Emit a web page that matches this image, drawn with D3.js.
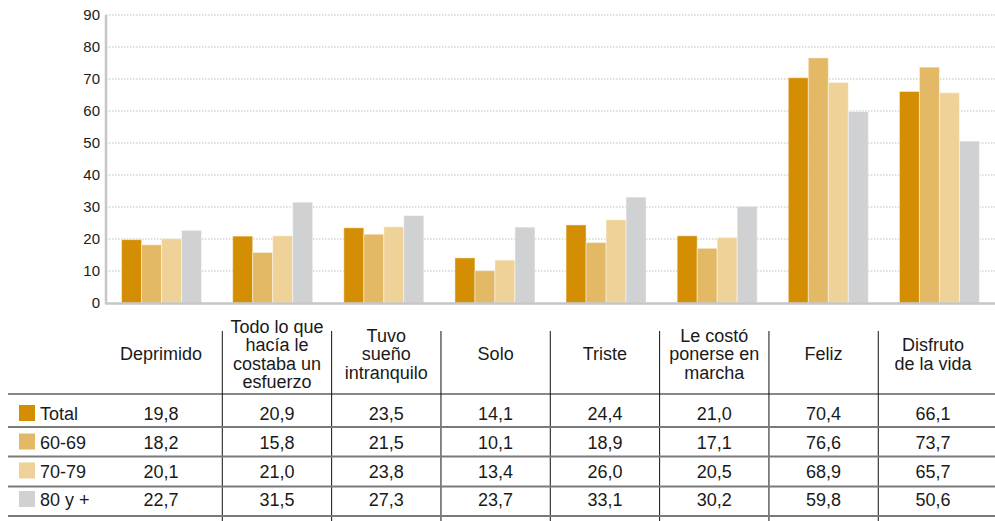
<!DOCTYPE html>
<html>
<head>
<meta charset="utf-8">
<script src="https://cdn.jsdelivr.net/npm/d3@7"></script>
<style>
  html, body { margin: 0; padding: 0; background: #fff; }
  svg { display: block; font-family: "Liberation Sans", Arial, Helvetica, sans-serif; }
</style>
</head>
<body>
<svg id="chart" width="995" height="521"></svg>
<script>
// ---- Data ----
const categories = [
  "Deprimido",
  "Todo lo que\nhacía le\ncostaba un\nesfuerzo",
  "Tuvo\nsueño\nintranquilo",
  "Solo",
  "Triste",
  "Le costó\nponerse en\nmarcha",
  "Feliz",
  "Disfruto\nde la vida"
];
const seriesNames = ["Total", "60-69", "70-79", "80 y +"];
const totalValues = [19.8, 20.9, 23.5, 14.1, 24.4, 21.0, 70.4, 66.1];
const age6069Values = [18.2, 15.8, 21.5, 10.1, 18.9, 17.1, 76.6, 73.7];
const age7079Values = [20.1, 21.0, 23.8, 13.4, 26.0, 20.5, 68.9, 65.7];
const age80Values = [22.7, 31.5, 27.3, 23.7, 33.1, 30.2, 59.8, 50.6];
const yTicks = [0, 10, 20, 30, 40, 50, 60, 70, 80, 90];

const seriesValues = [totalValues, age6069Values, age7079Values, age80Values];
const colors = ["#D48E04", "#E4B966", "#EFD298", "#D0D1D3"];

// ---- Layout ----
const svg = d3.select("#chart");
const plotLeft = 106, plotRight = 995, plotTop = 15, plotBottom = 303;

const x = d3.scaleBand().domain(d3.range(categories.length))
  .range([plotLeft, plotRight]).paddingInner(0.28).paddingOuter(0.14);
const xs = d3.scaleBand().domain(d3.range(seriesNames.length))
  .range([0, x.bandwidth()]);
const y = d3.scaleLinear().domain([0, 90]).range([plotBottom, plotTop]);

// gridlines
svg.append("g").selectAll("line").data(yTicks.filter(d => d > 0)).join("line")
  .attr("x1", plotLeft).attr("x2", plotRight)
  .attr("y1", d => y(d)).attr("y2", d => y(d))
  .attr("stroke", "#bdbdbd").attr("stroke-width", 1)
  .attr("stroke-dasharray", "1.5,1.5");

// y tick labels
svg.append("g").selectAll("text").data(yTicks).join("text")
  .attr("x", 100).attr("y", d => y(d)).attr("dy", "0.36em")
  .attr("text-anchor", "end").attr("font-size", 15).attr("fill", "#1a1a1a")
  .text(d => d);

// bars
const groups = svg.append("g").selectAll("g").data(seriesValues).join("g")
  .attr("fill", (d, i) => colors[i]);
groups.each(function(vals, si) {
  d3.select(this).selectAll("rect").data(vals).join("rect")
    .attr("x", (v, ci) => x(ci) + xs(si))
    .attr("width", xs.bandwidth())
    .attr("y", v => y(v))
    .attr("height", v => y(0) - y(v))
    .attr("stroke", "rgba(255,255,255,0.45)")
    .attr("stroke-width", 1);
});

// axes lines
svg.append("line").attr("x1", plotLeft).attr("x2", plotLeft)
  .attr("y1", plotTop).attr("y2", plotBottom + 1)
  .attr("stroke", "#c6c6c6").attr("stroke-width", 2.5);
svg.append("line").attr("x1", plotLeft - 1).attr("x2", plotRight)
  .attr("y1", plotBottom + 0.5).attr("y2", plotBottom + 0.5)
  .attr("stroke", "#c6c6c6").attr("stroke-width", 2.5);

// ---- Table ----
const fmt = v => d3.format(".1f")(v).replace(".", ",");
const tableLeft = 8;
const colStep = 109.33;
const firstLine = 222.3;
const colLines = d3.range(categories.length - 1).map(i => firstLine + i * colStep);
const colCenter = i => i === 0 ? 161 : firstLine + (i - 0.5) * colStep;
const rowLines = [394, 427, 456.5, 486.5, 516];
const rowBaselines = [420, 448.5, 477.5, 506];
const headerCenter = 354;
const lineH = 18.3;
const fs = 18;

// header labels
categories.forEach((c, i) => {
  const lines = c.split("\n");
  const t = svg.append("text").attr("text-anchor", "middle")
    .attr("font-size", fs).attr("fill", "#1a1a1a");
  const firstBase = headerCenter + 6.4 - (lines.length - 1) * lineH / 2;
  lines.forEach((l, k) => {
    t.append("tspan").attr("x", colCenter(i)).attr("y", firstBase + k * lineH).text(l);
  });
});

// vertical lines
svg.append("g").selectAll("line").data(colLines).join("line")
  .attr("x1", d => d).attr("x2", d => d)
  .attr("y1", 331).attr("y2", 521)
  .attr("stroke", "#111").attr("stroke-width", 1);

// horizontal lines
svg.append("g").selectAll("line").data(rowLines).join("line")
  .attr("x1", tableLeft).attr("x2", 995)
  .attr("y1", d => d).attr("y2", d => d)
  .attr("stroke", (d, i) => i === 0 ? "#111" : "#7a7a7a")
  .attr("stroke-width", (d, i) => i === 0 ? 1.2 : 2);

// rows
seriesNames.forEach((name, si) => {
  const b = rowBaselines[si];
  svg.append("rect").attr("x", 19).attr("y", b - 15).attr("width", 16).attr("height", 16)
    .attr("fill", colors[si]);
  svg.append("text").attr("x", 40).attr("y", b).attr("font-size", fs)
    .attr("fill", "#1a1a1a").text(name);
  svg.append("g").selectAll("text").data(seriesValues[si]).join("text")
    .attr("x", (v, ci) => colCenter(ci)).attr("y", b)
    .attr("text-anchor", "middle").attr("font-size", fs).attr("fill", "#1a1a1a")
    .text(v => fmt(v));
});
</script>
</body>
</html>
